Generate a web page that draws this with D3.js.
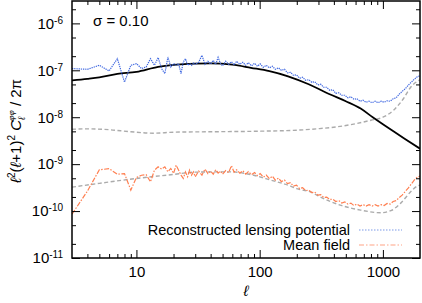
<!DOCTYPE html>
<html>
<head>
<meta charset="utf-8">
<script src="https://cdn.jsdelivr.net/npm/d3@7"></script>
<style>
body { margin: 0; background: #fff; }
svg { display: block; font-family: "Liberation Sans", Arial, sans-serif; }
</style>
</head>
<body>
<svg id="chart" width="422" height="303"></svg>
<script>
// ---- data ----
var xMajor = [10, 100, 1000];
var xMinor = [4,5,6,7,8,9,20,30,40,50,60,70,80,90,200,300,400,500,600,700,800,900];
var yMajor = [1e-11, 1e-10, 1e-9, 1e-8, 1e-7, 1e-6];
var yExp   = ["-11", "-10", "-9", "-8", "-7", "-6"];
var yMinor = [2e-11,5e-11,2e-10,5e-10,2e-9,5e-9,2e-8,5e-8,2e-7,5e-7,2e-6];

// multipoles of the two reconstructed (noisy) series
var ellRec = [3,4,5,6,7,8,9,10,11,12,13,14,15,16,17,18,19,20,21,22,23,24,25,26,27,28,29,30,
  32,34,36,38,40,42,44,46,48,50,53,56,59,62,65,69,73,77,81,86,91,96,101,
  107,113,120,127,134,142,150,159,168,178,188,199,211,223,236,250,265,280,296,
  313,331,350,370,392,415,439,464,491,520,550,582,616,652,690,730,772,817,864,914,967,
  1023,1082,1145,1211,1281,1355,1433,1516,1604,1697,1795,1899,2000];

var recLens = [1.09e-7,1.05e-7,1.28e-7,9.7e-8,1.77e-7,5.6e-8,1.28e-7,1.39e-7,1.09e-7,1.18e-7,
  1.77e-7,1.28e-7,1.87e-7,1.09e-7,8.5e-8,1.92e-7,1.18e-7,1.39e-7,1.28e-7,1.39e-7,
  8.5e-8,1.5e-7,1.77e-7,1.28e-7,1.39e-7,1.28e-7,1.43e-7,1.34e-7,
  1.48e-7,2.09e-7,1.34e-7,1.56e-7,1.37e-7,1.63e-7,1.34e-7,1.89e-7,1.41e-7,1.25e-7,
  1.56e-7,1.34e-7,1.52e-7,1.31e-7,1.56e-7,1.34e-7,1.48e-7,1.28e-7,1.45e-7,
  1.25e-7,1.41e-7,1.22e-7,1.37e-7,
  1.16e-7,1.28e-7,1.13e-7,1.22e-7,1.05e-7,1.13e-7,1.0e-7,
  1.05e-7,8.85e-8,9.07e-8,7.83e-8,8.0e-8,
  6.76e-8,7.1e-8,6.13e-8,6.3e-8,5.55e-8,5.7e-8,4.9e-8,
  5.04e-8,4.35e-8,4.35e-8,3.75e-8,3.85e-8,
  3.24e-8,3.32e-8,2.94e-8,2.94e-8,
  2.6e-8,2.73e-8,2.42e-8,2.48e-8,2.19e-8,2.3e-8,
  2.09e-8,2.19e-8,2.04e-8,2.19e-8,2.04e-8,2.19e-8,
  2.09e-8,2.24e-8,2.19e-8,2.48e-8,2.6e-8,3.09e-8,3.57e-8,
  4.03e-8,4.8e-8,5.55e-8,6.43e-8,7.27e-8,7.64e-8];

var meanField = [8.6e-11,2.66e-10,7.6e-10,8.0e-10,6.1e-10,6.3e-10,2.8e-10,5.2e-10,5.8e-10,5.95e-10,
  4.2e-10,7.45e-10,8.75e-10,7.83e-10,8.75e-10,6.86e-10,8.1e-10,6.35e-10,9.5e-10,7.45e-10,
  5.83e-10,4.96e-10,6.86e-10,5.37e-10,7.45e-10,5.83e-10,6.86e-10,5.37e-10,
  7.1e-10,5.83e-10,7.83e-10,6.3e-10,7.1e-10,6.13e-10,7.6e-10,6.43e-10,7.1e-10,6.13e-10,
  7.27e-10,6.6e-10,9.3e-10,6.76e-10,7.6e-10,
  6.43e-10,7.27e-10,6.13e-10,6.93e-10,
  5.98e-10,6.6e-10,5.7e-10,6.3e-10,
  5.29e-10,5.83e-10,4.9e-10,5.55e-10,4.57e-10,5.04e-10,4.24e-10,
  4.57e-10,3.84e-10,4.04e-10,3.4e-10,3.57e-10,
  3.0e-10,3.16e-10,2.73e-10,2.8e-10,2.48e-10,2.54e-10,2.19e-10,
  2.24e-10,1.94e-10,1.99e-10,1.76e-10,1.8e-10,
  1.6e-10,1.67e-10,1.48e-10,1.56e-10,
  1.41e-10,1.48e-10,1.31e-10,1.41e-10,1.28e-10,1.37e-10,
  1.28e-10,1.37e-10,1.28e-10,1.37e-10,1.28e-10,1.37e-10,
  1.31e-10,1.45e-10,1.41e-10,1.6e-10,1.67e-10,1.94e-10,2.19e-10,
  2.6e-10,3.09e-10,3.75e-10,4.57e-10,5.29e-10,5.55e-10];

// theory lensing potential (black)
var ellTh = [3,4,5,7,10,15,20,30,40,60,85,120,170,250,370,500,660,827,1000,1200,1500,2000];
var theory = [6.1e-8,6.6e-8,7.1e-8,8.4e-8,9.3e-8,1.19e-7,1.31e-7,1.39e-7,1.40e-7,1.32e-7,1.13e-7,
  9.6e-8,7.45e-8,5.04e-8,3.09e-8,2.19e-8,1.53e-8,1.0e-8,7.1e-9,5.16e-9,3.49e-9,2.14e-9];

// expected noise (upper grey dashed)
var ellNoise = [3,4,6,9,14,20,40,100,200,300,430,600,800,1000,1220,1475,1680,1850,2000];
var noise = [5.55e-9,5.65e-9,5.42e-9,4.9e-9,4.57e-9,4.8e-9,4.9e-9,5.04e-9,5.29e-9,5.7e-9,
  6.28e-9,7.27e-9,8.63e-9,1.0e-8,1.41e-8,2.54e-8,4.35e-8,5.55e-8,6.28e-8];

// expected mean field (lower grey dashed)
var ellMF = [3,5,10,20,30,58,85,123,178,200,260,315,450,660,960,1160,1390,1680,1900,2000];
var meanFieldTh = [3.24e-10,3.9e-10,4.96e-10,6.03e-10,6.76e-10,6.86e-10,5.98e-10,4.57e-10,3.4e-10,
  3.0e-10,2.54e-10,1.96e-10,1.34e-10,1.05e-10,9.2e-11,1.02e-10,1.46e-10,2.57e-10,3.4e-10,3.57e-10];

var legendLabels = ["Reconstructed lensing potential", "Mean field"];

// ---- layout ----
var svg = d3.select("#chart"),
    padL = 72, padR = 420, padT = 1, padB = 258;

var x = d3.scaleLog().domain([3, 2000]).range([padL, padR]);
var y = d3.scaleLog().domain([1e-11, 3e-6]).range([padB, padT]);

svg.append("defs").append("clipPath").attr("id", "clip")
  .append("rect").attr("x", padL).attr("y", padT)
  .attr("width", padR - padL).attr("height", padB - padT);

function zip(a, b) { return a.map(function(d, i) { return [d, b[i]]; }); }

var line = d3.line()
    .x(function(d) { return x(d[0]); })
    .y(function(d) { return y(d[1]); });

var smooth = d3.line()
    .curve(d3.curveMonotoneX)
    .x(function(d) { return x(d[0]); })
    .y(function(d) { return y(d[1]); });

var plot = svg.append("g").attr("clip-path", "url(#clip)");

plot.append("path").datum(zip(ellNoise, noise))
  .attr("d", smooth).attr("fill", "none")
  .attr("stroke", "#ababab").attr("stroke-width", 1.4).attr("stroke-dasharray", "4,2.5");

plot.append("path").datum(zip(ellMF, meanFieldTh))
  .attr("d", smooth).attr("fill", "none")
  .attr("stroke", "#ababab").attr("stroke-width", 1.4).attr("stroke-dasharray", "4,2.5");

plot.append("path").datum(zip(ellTh, theory))
  .attr("d", smooth).attr("fill", "none")
  .attr("stroke", "#000").attr("stroke-width", 1.8);

plot.append("path").datum(zip(ellRec, recLens))
  .attr("d", line).attr("fill", "none")
  .attr("stroke", "#4169e1").attr("stroke-width", 1.2).attr("stroke-dasharray", "1.3,0.9");

plot.append("path").datum(zip(ellRec, meanField))
  .attr("d", line).attr("fill", "none")
  .attr("stroke", "#ff7f50").attr("stroke-width", 1.2).attr("stroke-dasharray", "5,1.5,1.5,1.5");

// ---- axes (ticks inside on all four sides) ----
function drawAxis(axis, tx, ty) {
  var g = svg.append("g")
    .attr("transform", "translate(" + tx + "," + ty + ")")
    .call(axis);
  g.select(".domain").remove();
  g.attr("font-family", null).attr("font-size", 15);
  g.selectAll(".tick line").attr("stroke", "#000");
  return g;
}

drawAxis(d3.axisBottom(x).tickValues(xMajor).tickSizeInner(-8).tickSizeOuter(0)
  .tickPadding(8).tickFormat(d3.format("d")), 0, padB)
  .selectAll("text").attr("fill", "#000");
drawAxis(d3.axisBottom(x).tickValues(xMinor).tickSize(-4).tickFormat(""), 0, padB);
drawAxis(d3.axisTop(x).tickValues(xMajor).tickSize(-8).tickFormat(""), 0, padT);
drawAxis(d3.axisTop(x).tickValues(xMinor).tickSize(-4).tickFormat(""), 0, padT);

var gy = drawAxis(d3.axisLeft(y).tickValues(yMajor).tickSizeInner(-8).tickSizeOuter(0)
  .tickPadding(9).tickFormat(""), padL, 0);
drawAxis(d3.axisLeft(y).tickValues(yMinor).tickSize(-4).tickFormat(""), padL, 0);
drawAxis(d3.axisRight(y).tickValues(yMajor).tickSize(-8).tickFormat(""), padR, 0);
drawAxis(d3.axisRight(y).tickValues(yMinor).tickSize(-4).tickFormat(""), padR, 0);

gy.selectAll(".tick text").each(function(d, i) {
  var t = d3.select(this).attr("fill", "#000").attr("font-size", 15).text(null);
  t.append("tspan").text("10");
  t.append("tspan").attr("font-size", 10).attr("dy", "-0.5em").text(yExp[i]);
});

svg.append("rect")
  .attr("x", padL).attr("y", padT)
  .attr("width", padR - padL).attr("height", padB - padT)
  .attr("fill", "none").attr("stroke", "#000").attr("stroke-width", 1.5);

// ---- texts ----
svg.append("text").attr("x", 93).attr("y", 26).attr("font-size", 15).text("σ = 0.10");

svg.append("text").attr("x", (padL + padR) / 2).attr("y", 296)
  .attr("text-anchor", "middle").attr("font-size", 15)
  .attr("font-style", "italic").text("ℓ");

var yl = svg.append("text")
  .attr("transform", "translate(21,131) rotate(-90)")
  .attr("text-anchor", "middle").attr("font-size", 15);
yl.append("tspan").attr("font-style", "italic").text("ℓ");
yl.append("tspan").attr("font-size", 10).attr("dy", -6).text("2");
yl.append("tspan").attr("dy", 6).text("(");
yl.append("tspan").attr("font-style", "italic").text("ℓ");
yl.append("tspan").text("+1)");
yl.append("tspan").attr("font-size", 10).attr("dy", -6).text("2");
yl.append("tspan").attr("dy", 6).text(" ");
yl.append("tspan").attr("font-style", "italic").text("C");
yl.append("tspan").attr("font-size", 10).attr("font-style", "italic").attr("dy", 4).text("ℓ");
yl.append("tspan").attr("font-size", 8).attr("font-style", "italic").attr("dx", -4).attr("dy", -11).text("φφ");
yl.append("tspan").attr("dy", 7).text(" / 2π");

// ---- legend ----
var legendStyle = [
  { color: "#7d9ae8", dash: "1.5,1.5" },
  { color: "#ffa385", dash: "5,2,1.5,2" }
];
legendLabels.forEach(function(lab, i) {
  var yy = 230 + i * 15;
  svg.append("text").attr("x", 350).attr("y", yy + 5)
    .attr("text-anchor", "end").attr("font-size", 14.5).text(lab);
  svg.append("line").attr("x1", 359).attr("x2", 402).attr("y1", yy).attr("y2", yy)
    .attr("stroke", legendStyle[i].color).attr("stroke-width", 1.2)
    .attr("stroke-dasharray", legendStyle[i].dash);
});
</script>
</body>
</html>
